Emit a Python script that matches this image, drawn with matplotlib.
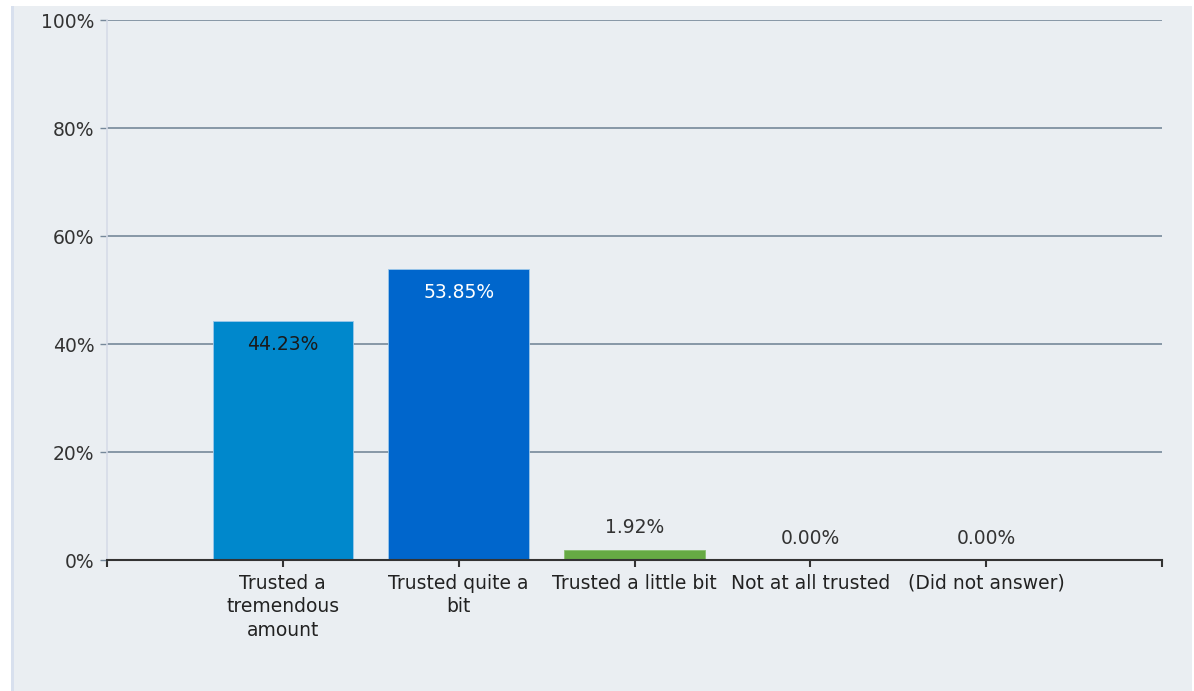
import matplotlib.pyplot as plt
from matplotlib.patches import Rectangle
from matplotlib.ticker import FuncFormatter

# Survey answers (percent of respondents)
categories = ['Trusted a\ntremendous\namount', 'Trusted quite a\nbit',
              'Trusted a little bit', 'Not at all trusted', '(Did not answer)']
values = [44.23, 53.85, 1.92, 0.00, 0.00]
bar_colors = ['#0088CC', '#0066CC', '#66AA44', '#0088CC', '#0088CC']
yticks = [0, 20, 40, 60, 80, 100]

W, H = 1194, 691
fig = plt.figure(figsize=(W / 100, H / 100), dpi=100, facecolor='white')

# light panel behind the chart, with the thin border line on its left
fig.patches.append(Rectangle((14 / W, 0), (1192 - 14) / W, 1 - 6 / H,
                             transform=fig.transFigure, facecolor='#EAEEF2',
                             edgecolor='none', zorder=-2))
fig.patches.append(Rectangle((11 / W, 0), 3 / W, 1 - 6 / H,
                             transform=fig.transFigure, facecolor='#D8E0EE',
                             edgecolor='none', zorder=-1))

ax = fig.add_axes([107 / W, 1 - 560 / H, (1162 - 107) / W, (560 - 20) / H])
ax.set_facecolor('none')

pos = list(range(1, len(categories) + 1))
bars = ax.bar(pos, values, width=0.8, color=bar_colors, edgecolor='#9CC8EA',
              linewidth=0.6, zorder=3)
bars[2].set_edgecolor('#88C070')

ax.set_xlim(0, len(categories) + 1)
ax.set_ylim(0, 100)

# value labels: inside the two tall bars, above the short ones
for i, (b, v) in enumerate(zip(bars, values)):
    x = b.get_x() + b.get_width() / 2
    if v > 10:
        col = 'white' if i == 1 else '#1A1A1A'
        ax.annotate(f'{v:.2f}%', (x, v), xytext=(0, -23), textcoords='offset pixels',
                    ha='center', va='center', fontsize=13.5, color=col, zorder=4)
    else:
        ax.annotate(f'{v:.2f}%', (x, v), xytext=(0, 22), textcoords='offset pixels',
                    ha='center', va='center', fontsize=13.5, color='#333333', zorder=4)

# axes styling
ax.set_yticks(yticks)
ax.yaxis.set_major_formatter(FuncFormatter(lambda v, p: f'{v:.0f}%'))
ax.grid(axis='y', color='#76889A', linewidth=1.2, zorder=1)
ax.set_axisbelow(True)

ax.set_xticks([0] + pos + [len(categories) + 1])
ax.set_xticklabels([''] + categories + [''])

for s in ['top', 'right']:
    ax.spines[s].set_visible(False)
ax.spines['left'].set_color('#D6DBE8')
ax.spines['left'].set_linewidth(1.2)
ax.spines['bottom'].set_color('#333333')
ax.spines['bottom'].set_linewidth(1.5)
ax.spines['bottom'].set_zorder(5)

ax.tick_params(axis='y', length=5, width=1, color='#76889A', pad=4,
               labelsize=13.5, labelcolor='#333333')
ax.tick_params(axis='x', length=5, width=1.5, color='#333333', pad=5,
               labelsize=13.5, labelcolor='#222222')
for lbl in ax.get_xticklabels():
    lbl.set_linespacing(1.3)

fig.savefig('out.png', dpi=100, facecolor=fig.get_facecolor())
